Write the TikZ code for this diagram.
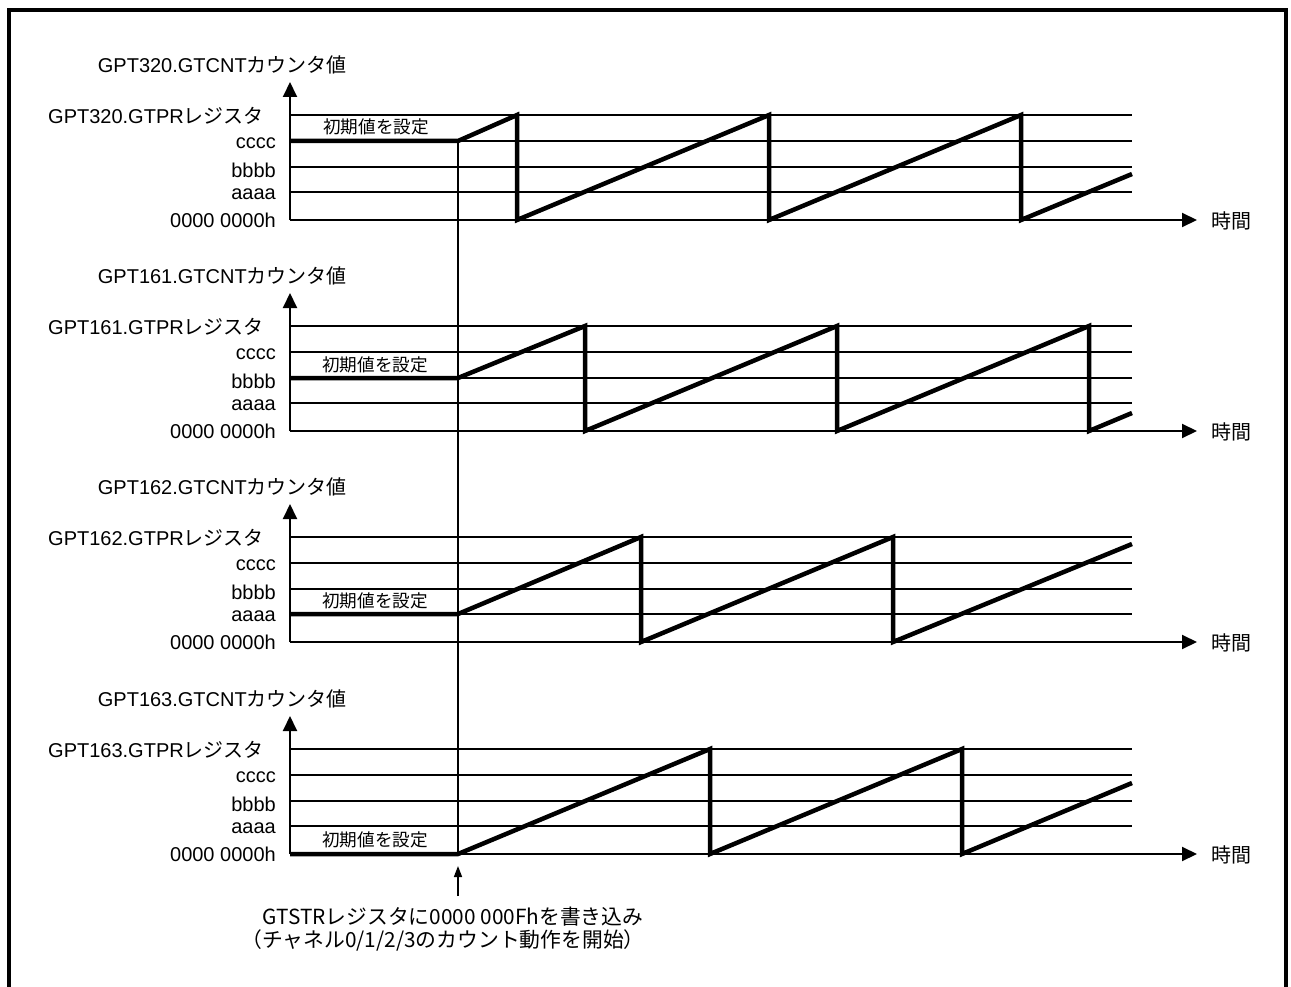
\documentclass[tikz,border=0pt]{standalone}
\usepackage{fontspec}
\setmainfont{Liberation Sans}
\newfontfamily\jp{Noto Sans CJK JP}
\usetikzlibrary{arrows.meta}
\newcommand\J[1]{{\jp #1}}
\tikzset{
  lbl/.style={inner sep=0pt, font=\fontsize{20}{23}\selectfont},
  initlbl/.style={inner sep=0pt, font=\jp\fontsize{17.6}{20}\selectfont},
  notelbl/.style={inner sep=0pt, font=\jp\fontsize{20.8}{23}\selectfont},
  gridline/.style={line width=1.2pt},
  axisline/.style={line width=2pt, -{Triangle[length=15pt,width=14pt]}},
  wave/.style={line width=4.5pt},
  startline/.style={line width=2pt},
  smallarrow/.style={line width=1.5pt, -{Triangle[length=11pt,width=8pt]}},
  framebox/.style={line width=4pt}
}
% #1 = y of zero line, #2 = channel
\newcommand\gptaxes[2]{%
  \draw[gridline] (290,{#1-105}) -- (1132,{#1-105});
  \draw[gridline] (290,{#1-79}) -- (1132,{#1-79});
  \draw[gridline] (290,{#1-53}) -- (1132,{#1-53});
  \draw[gridline] (290,{#1-28}) -- (1132,{#1-28});
  \coordinate (o#2) at (290,#1);
  \coordinate (t#2) at (1197,#1);
  \coordinate (v#2) at (290,{#1-138});
  \draw[axisline] (o#2) -- (t#2);
  \draw[axisline] (o#2) -- (v#2);
  \node[lbl, anchor=east] (cnt#2) at (347,{#1-155}) {GPT#2.GTCNT\J{カウンタ値}};
  \node[lbl, anchor=west] (pr#2) at (48,{#1-104}) {GPT#2.GTPR\J{レジスタ}};
  \node[lbl, anchor=east] (c#2) at (276,{#1-77}) {cccc};
  \node[lbl, anchor=east] (b#2) at (276,{#1-50}) {bbbb};
  \node[lbl, anchor=east] (a#2) at (276,{#1-26}) {aaaa};
  \node[lbl, anchor=east] (z#2) at (276,{#1}) {0000 0000h};
  \node[lbl, anchor=west] (time#2) at (1211,{#1+1}) {\J{時間}};
}
\begin{document}
\begin{tikzpicture}[x=1pt,y=-1pt]
\useasboundingbox (0,0) rectangle (1291,987);
\draw[framebox] (9,1000) -- (9,10) -- (1286,10) -- (1286,1000);

% panel 1
\gptaxes{220}{320}
\node[initlbl, anchor=base] (i320) at (376,134) {初期値を設定};
\draw[wave] (290,141) -- (458,141) -- (517,115) -- (517,220) -- (769,115) -- (769,220)
  -- (1021,115) -- (1021,220) -- (1132,174);

% panel 2
\gptaxes{431}{161}
\node[initlbl, anchor=base] (i161) at (375,371) {初期値を設定};
\draw[wave] (290,378) -- (458,378) -- (585,326) -- (585,431) -- (837,326) -- (837,431)
  -- (1089,326) -- (1089,431) -- (1132,413);

% panel 3
\gptaxes{642}{162}
\node[initlbl, anchor=base] (i162) at (375,607) {初期値を設定};
\draw[wave] (290,614) -- (458,614) -- (641,537) -- (641,642) -- (893,537) -- (893,642)
  -- (1132,544);

% panel 4
\gptaxes{854}{163}
\node[initlbl, anchor=base] (i163) at (375,846) {初期値を設定};
\draw[wave] (290,854) -- (458,854) -- (710,749) -- (710,854) -- (962,749) -- (962,854)
  -- (1132,783);

% start line
\coordinate (s1) at (458,141);
\coordinate (s4) at (458,854);
\draw[startline] (s1) -- (s4);

% note
\coordinate (n0) at (458,896);
\coordinate (n1) at (458,866);
\draw[smallarrow] (n0) -- (n1);
\node[notelbl] (note1) at (453,917) {GTSTRレジスタに0000 000Fhを書き込み};
\node[notelbl] (note2) at (443,940) {（チャネル0/1/2/3のカウント動作を開始）};
\end{tikzpicture}
\end{document}
